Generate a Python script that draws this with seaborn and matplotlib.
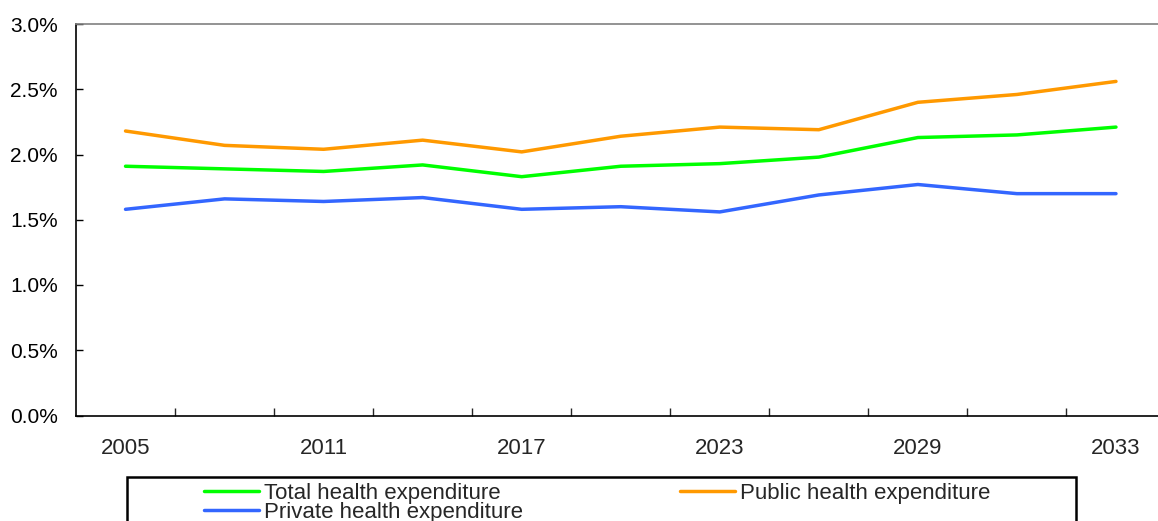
import pandas as pd
import matplotlib
matplotlib.use("Agg")
import matplotlib.pyplot as plt
import seaborn as sns
from matplotlib.patches import Rectangle
from matplotlib.ticker import FuncFormatter

# dados (% do PIB)
anos = ["2005", "2008", "2011", "2014", "2017", "2020", "2023", "2026", "2029", "2031", "2033"]
total = [1.91, 1.89, 1.87, 1.92, 1.83, 1.91, 1.93, 1.98, 2.13, 2.15, 2.21]
publico = [2.18, 2.07, 2.04, 2.11, 2.02, 2.14, 2.21, 2.19, 2.40, 2.46, 2.56]
privado = [1.58, 1.66, 1.64, 1.67, 1.58, 1.60, 1.56, 1.69, 1.77, 1.70, 1.70]
anos_rotulo = ["2005", "2011", "2017", "2023", "2029", "2033"]

series = {
    "Total health expenditure": total,
    "Public health expenditure": publico,
    "Private health expenditure": privado,
}
cores = {
    "Total health expenditure": "#00FF00",
    "Public health expenditure": "#FF9900",
    "Private health expenditure": "#3366FF",
}

base = pd.concat(
    [pd.DataFrame({"ano": anos, "valor": v, "serie": nome}) for nome, v in series.items()],
    ignore_index=True,
)

sns.set_style("white")
plt.rcParams["font.family"] = ["Liberation Sans", "DejaVu Sans"]

fig = plt.figure(figsize=(11.58, 5.21), dpi=100)
ax = fig.add_axes([76 / 1158, 1 - 415.5 / 521, 1089.5 / 1158, 391.5 / 521])

sns.lineplot(data=base, x="ano", y="valor", hue="serie", palette=cores,
             linewidth=2.5, ax=ax, legend=False, sort=False)

ax.set_ylim(0, 3.0)
ax.set_yticks([0, 0.5, 1.0, 1.5, 2.0, 2.5, 3.0])
ax.yaxis.set_major_formatter(FuncFormatter(lambda v, p: f"{v:.1f}%"))
ax.tick_params(axis="y", direction="in", length=5, width=1, labelsize=15, pad=13,
               left=True, colors="black")

n = len(anos)
ax.set_xlim(-0.5, n - 0.5)
ax.set_xticks([i + 0.5 for i in range(n - 1)])
ax.set_xticklabels([])
ax.set_xticks([anos.index(a) for a in anos_rotulo], labels=anos_rotulo, minor=True)
ax.tick_params(axis="x", which="major", direction="in", length=6, width=1, bottom=True)
ax.tick_params(axis="x", which="minor", length=0, labelsize=16, pad=16)
ax.set_xlabel("")
ax.set_ylabel("")

for lado in ["left", "bottom"]:
    ax.spines[lado].set_color("black")
    ax.spines[lado].set_linewidth(1.2)
ax.spines["top"].set_color("#808080")
ax.spines["top"].set_linewidth(1.2)
ax.spines["right"].set_visible(False)

# legenda: ordem coluna a coluna -> Total/Private na 1a, Public na 2a
ordem = ["Total health expenditure", "Private health expenditure", "Public health expenditure"]
handles = [plt.Line2D([], [], color=cores[s], linewidth=2.5) for s in ordem]
fig.legend(handles, ordem, loc="upper left", bbox_to_anchor=(204 / 1158, 1 - 483 / 521),
           ncol=2, frameon=False, fontsize=16, handlelength=2.48, handletextpad=0.22,
           columnspacing=7.07, labelspacing=-0.08, borderpad=0, borderaxespad=0)
fig.patches.append(Rectangle((127 / 1158, -0.05), 949 / 1158, 0.05 + 44 / 521,
                             transform=fig.transFigure, fill=False,
                             edgecolor="black", linewidth=1.8))

fig.savefig("out.png", dpi=100)
